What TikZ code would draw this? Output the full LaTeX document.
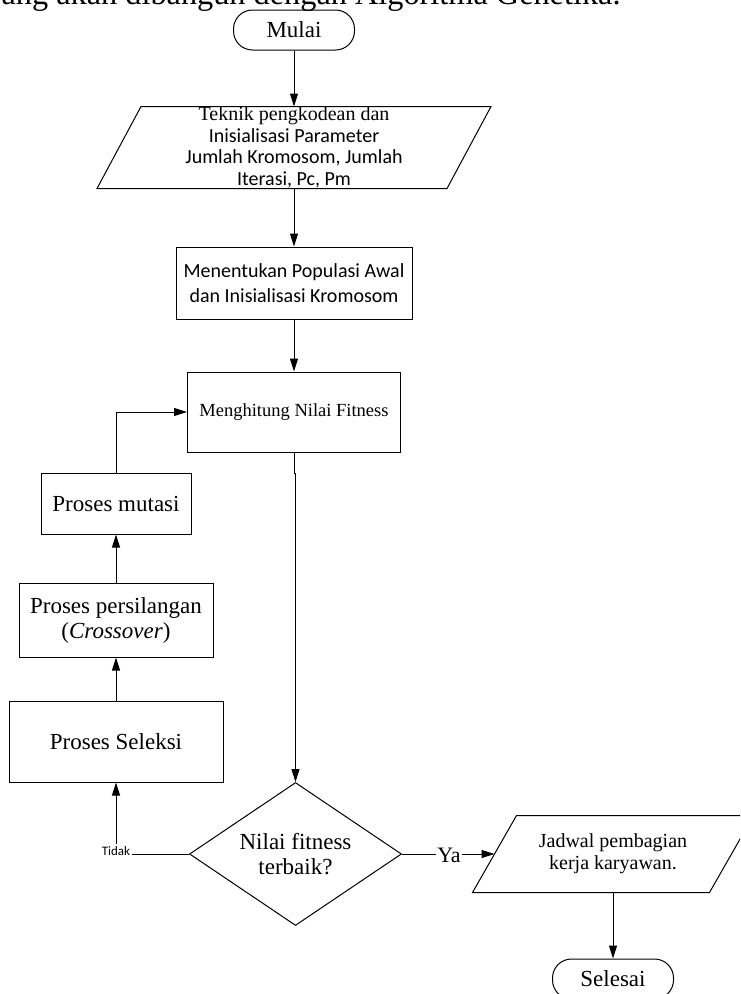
\documentclass[tikz,border=0pt]{standalone}
\usepackage{fontspec}
\setmainfont{Liberation Serif}
\newfontfamily\calfont{Carlito}
\usetikzlibrary{arrows.meta,shapes.geometric,calc}
\begin{document}
\begin{tikzpicture}[x=1pt,y=-1pt,line width=1pt,
  box/.style={draw,inner sep=0pt,align=center},
  term/.style={draw,rounded corners=19pt,inner sep=0pt,minimum width=121pt,minimum height=40pt,font=\fontsize{23}{26}\selectfont},
  io/.style={inner sep=0pt,align=center},
  arr/.style={-{Triangle[length=13pt,width=8pt]}}]
\useasboundingbox (0,0) rectangle (740,994);
\clip (0,0) rectangle (740,994);
% cut-off line of text at the top
\node[anchor=base west,inner sep=0pt,font=\fontsize{32.3}{36}\selectfont] (toptext) at (-15,4) {yang akan dibangun dengan Algoritma Genetika.};
% nodes
\node[term] (mulai) at (294,30) {Mulai};
\node[io,minimum width=349pt,minimum height=81pt,font=\fontsize{20}{21.5}\selectfont] (p1) at (294,147.5)
  {Teknik pengkodean dan\\ {\calfont Inisialisasi Parameter}\\ {\calfont Jumlah Kromosom, Jumlah}\\ {\calfont Iterasi, Pc, Pm}};
\draw ($(p1.south west)+(-22,0)$) -- ($(p1.south east)+(-22,0)$) -- ($(p1.north east)+(22,0)$) -- ($(p1.north west)+(22,0)$) -- cycle;
\node[box,minimum width=236pt,minimum height=72pt,font=\calfont\fontsize{20}{25}\selectfont] (b2) at (294,283)
  {Menentukan Populasi Awal\\dan Inisialisasi Kromosom};
\node[box,minimum width=213pt,minimum height=80pt,font=\fontsize{18.5}{22}\selectfont] (b3) at (294,412)
  {Menghitung Nilai Fitness};
\node[draw,diamond,inner sep=0pt,shape aspect=1.5,minimum width=212pt,minimum height=143pt,align=center,font=\fontsize{23}{25}\selectfont] (dec) at (295.5,854)
  {Nilai fitness\\terbaik?};
\node[box,minimum width=150pt,minimum height=61pt,font=\fontsize{23}{26}\selectfont] (mut) at (116,503.5) {Proses mutasi};
\node[box,minimum width=194pt,minimum height=74pt,font=\fontsize{23}{25}\selectfont] (cross) at (116,620) {Proses persilangan\\(\textit{Crossover})};
\node[box,minimum width=214pt,minimum height=81pt,font=\fontsize{23}{26}\selectfont] (sel) at (116,741.5) {Proses Seleksi};
\node[inner sep=1pt,anchor=base,font=\calfont\fontsize{13}{15}\selectfont] (tidak) at (116,855) {Tidak};
\node[inner sep=1pt,font=\fontsize{22}{24}\selectfont] (ya) at (449,855) {Ya};
\node[io,minimum width=236pt,minimum height=76pt,font=\fontsize{20}{22}\selectfont] (p2) at (613,854)
  {Jadwal pembagian\\kerja karyawan.};
\draw ($(p2.south west)+(-22,0)$) -- ($(p2.south east)+(-22,0)$) -- ($(p2.north east)+(22,0)$) -- ($(p2.north west)+(22,0)$) -- cycle;
\node[term] (selesai) at (613,979) {Selesai};
% connectors
\draw[arr] (mulai.south) -- (p1.north);
\draw[arr] (p1.south) -- (b2.north);
\draw[arr] (b2.south) -- (b3.north);
\draw[arr] (b3.south) -- ++(0,21) -| (dec.north);
\draw (dec.west) -- (dec.west -| tidak.east);
\draw[arr] (tidak.north) -- (sel.south);
\draw[arr] (sel.north) -- (cross.south);
\draw[arr] (cross.north) -- (mut.south);
\draw[arr] (mut.north) |- (b3.west);
\draw (dec.east) -- (dec.east -| ya.west);
\draw[arr] (ya.east |- dec.east) -- (p2.west);
\draw[arr] (p2.south) -- (selesai.north);
\end{tikzpicture}
\end{document}
